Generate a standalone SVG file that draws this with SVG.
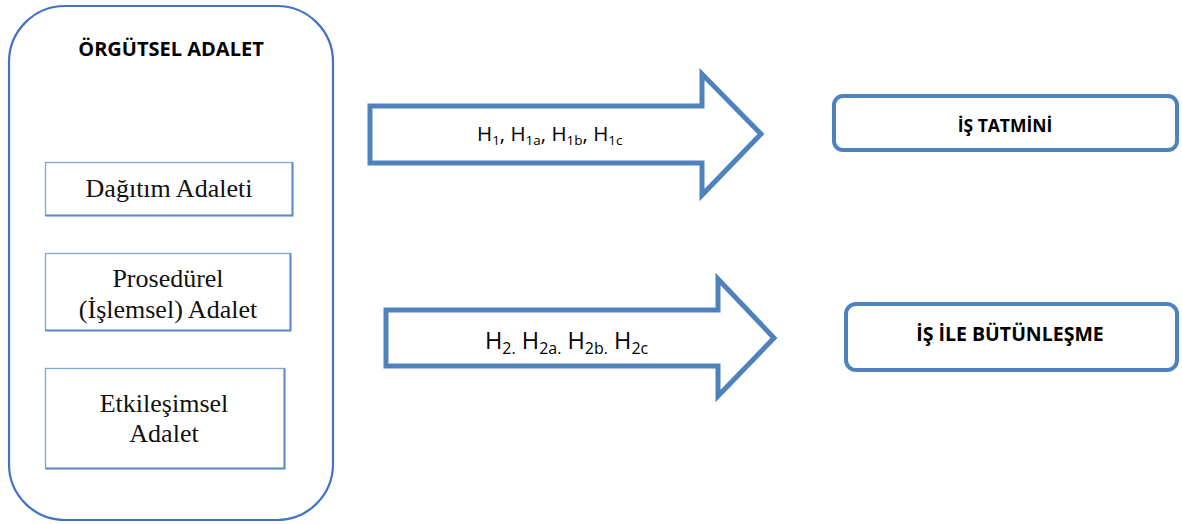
<svg xmlns="http://www.w3.org/2000/svg" width="1182" height="524" viewBox="0 0 1182 524">
<style>
.outer{fill:#fff;stroke:#4472C4;stroke-width:2.2}
.inner{fill:#fff;stroke:#7FA6D6;stroke-width:1.3}
.shadow{fill:none;stroke:#5B8CC8;stroke-width:2}
.serif{font-family:"Liberation Serif","Times New Roman",serif;font-size:26px;fill:#111;text-anchor:middle}
.bold{font-family:"Open Sans","Liberation Sans",sans-serif;font-weight:bold;fill:#000;text-anchor:middle}
.arrow{fill:#fff;stroke:#4F81BD;stroke-width:5;stroke-linejoin:miter}
.target{fill:#fff;stroke:#4F81BD;stroke-width:4}
.h{font-family:"Open Sans","Liberation Sans",sans-serif;fill:#000}
</style>
<rect width="1182" height="524" fill="#fff"/>
<g id="orgutsel-adalet">
<rect class="outer" x="9" y="6" width="324" height="514" rx="56" ry="56"/>
<text class="bold" x="171" y="56" font-size="20">ÖRGÜTSEL ADALET</text>
</g>
<g id="dagitim-adaleti">
<rect class="inner" x="45.5" y="162.5" width="247" height="53"/>
<path class="shadow" d="M45.5 215.5 H292.5 V162.5"/>
<text class="serif" x="169" y="197" font-size="25">Dağıtım Adaleti</text>
</g>
<g id="prosedurel-adalet">
<rect class="inner" x="45.5" y="253.5" width="245" height="77"/>
<path class="shadow" d="M45.5 330.5 H290.5 V253.5"/>
<text class="serif" x="168" y="287">Prosedürel</text>
<text class="serif" x="168" y="318">(İşlemsel) Adalet</text>
</g>
<g id="etkilesimsel-adalet">
<rect class="inner" x="45.5" y="368.5" width="239" height="100"/>
<path class="shadow" d="M45.5 468.5 H284.5 V368.5"/>
<text class="serif" x="164" y="412">Etkileşimsel</text>
<text class="serif" x="164" y="442">Adalet</text>
</g>
<g id="connectors">
<g id="arrow-h1">
<path class="arrow" d="M370 106 H702 V74 L761 134 L702 195 V163 H370 Z"/>
<text class="h" x="477" y="141" font-size="20.5">H<tspan font-size="13.5" dy="4">1</tspan><tspan dy="-4">, H</tspan><tspan font-size="13.5" dy="4">1a</tspan><tspan dy="-4">, H</tspan><tspan font-size="13.5" dy="4">1b</tspan><tspan dy="-4">, H</tspan><tspan font-size="13.5" dy="4">1c</tspan></text>
</g>
<g id="arrow-h2">
<path class="arrow" d="M386 310 H718 V279 L774 338 L718 396 V366 H386 Z"/>
<text class="h" x="485" y="349" font-size="23.5">H<tspan font-size="16" dy="5">2.</tspan><tspan dy="-5"> H</tspan><tspan font-size="16" dy="5">2a.</tspan><tspan dy="-5"> H</tspan><tspan font-size="16" dy="5">2b.</tspan><tspan dy="-5"> H</tspan><tspan font-size="16" dy="5">2c</tspan></text>
</g>
</g>
<g id="is-tatmini">
<rect class="target" x="834" y="96" width="343" height="54" rx="9" ry="9"/>
<text class="bold" x="1005" y="132" font-size="17.5">İŞ TATMİNİ</text>
</g>
<g id="is-ile-butunlesme">
<rect class="target" x="846" y="304" width="331" height="66" rx="10" ry="10"/>
<text class="bold" x="1010" y="341" font-size="19.5">İŞ İLE BÜTÜNLEŞME</text>
</g>
</svg>
